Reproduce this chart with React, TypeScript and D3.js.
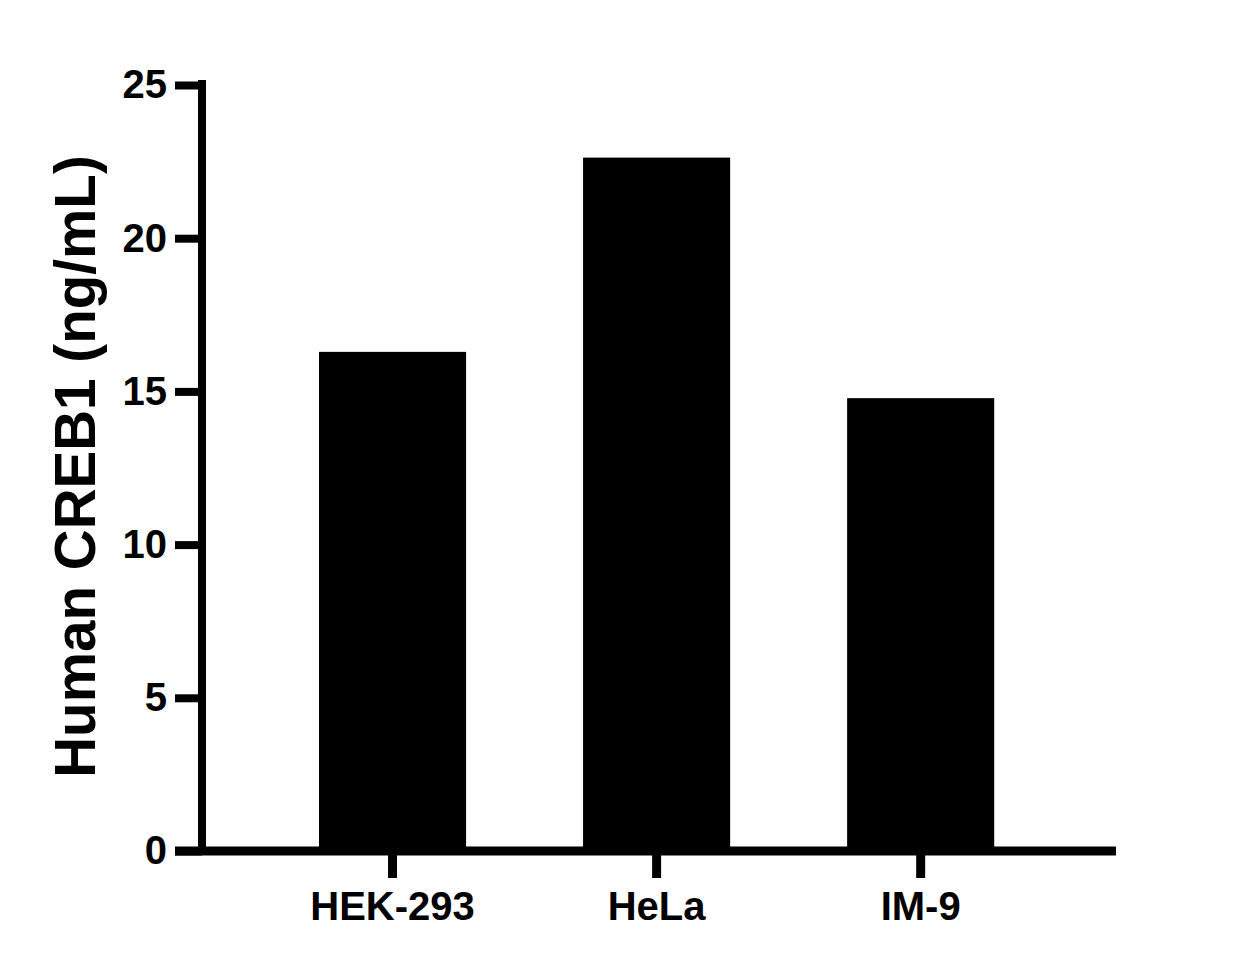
import React, { useEffect, useRef } from 'react';
import * as d3 from 'd3';

// cell lines and measured concentration (ng/mL)
const cellLines = ['HEK-293', 'HeLa', 'IM-9'];
const creb1Values = [16.29, 22.63, 14.78];
const yTicks = [0, 5, 10, 15, 20, 25];

const FONT = 'Arial, "Liberation Sans", Helvetica, sans-serif';

export default function App() {
  const svgRef = useRef<SVGSVGElement>(null);
  const width = 1250;
  const height = 972;

  useEffect(() => {
    if (!svgRef.current) return;
    const svg = d3.select(svgRef.current);
    svg.selectAll('*').remove();

    const axisX = 202;
    const axisY = 851;

    // Scales
    const yScale = d3.scaleLinear().domain([0, 25]).range([axisY, 85]);
    const xScale = d3.scaleBand<string>()
      .domain(cellLines)
      .range([260.5, 1052.7])
      .paddingInner(0.443)
      .paddingOuter(0.2215);

    // Bars
    svg.append('g')
      .selectAll('rect')
      .data(cellLines)
      .enter()
      .append('rect')
      .attr('x', d => xScale(d) as number)
      .attr('y', (d, i) => yScale(creb1Values[i]))
      .attr('width', xScale.bandwidth())
      .attr('height', (d, i) => axisY - yScale(creb1Values[i]))
      .attr('fill', '#000');

    // Y axis
    const yAxis = d3.axisLeft(yScale)
      .tickValues(yTicks)
      .tickFormat(d3.format('d') as any)
      .tickSizeInner(27)
      .tickSizeOuter(0)
      .tickPadding(8);

    const yG = svg.append('g')
      .attr('transform', `translate(${axisX},0)`)
      .call(yAxis);
    yG.select('.domain').remove();
    yG.selectAll('.tick line').attr('stroke', '#000').attr('stroke-width', 8);
    yG.selectAll('.tick text')
      .attr('fill', '#000')
      .style('font-family', FONT)
      .style('font-size', '40px')
      .style('font-weight', 'bold');

    // X axis
    const xAxis = d3.axisBottom(xScale)
      .tickSizeInner(27)
      .tickSizeOuter(0)
      .tickPadding(14);

    const xG = svg.append('g')
      .attr('transform', `translate(0,${axisY})`)
      .call(xAxis);
    xG.select('.domain').remove();
    xG.selectAll('.tick line').attr('stroke', '#000').attr('stroke-width', 9);
    xG.selectAll('.tick text')
      .attr('fill', '#000')
      .style('font-family', FONT)
      .style('font-size', '40px')
      .style('font-weight', 'bold');

    // Axis lines
    svg.append('line')
      .attr('x1', axisX).attr('x2', axisX)
      .attr('y1', 80).attr('y2', axisY + 4)
      .attr('stroke', '#000').attr('stroke-width', 8);
    svg.append('line')
      .attr('x1', 175).attr('x2', 1116)
      .attr('y1', axisY).attr('y2', axisY)
      .attr('stroke', '#000').attr('stroke-width', 9);

    // Y title
    svg.append('text')
      .attr('transform', 'rotate(-90)')
      .attr('x', -466.5)
      .attr('y', 95)
      .attr('text-anchor', 'middle')
      .style('font-family', FONT)
      .style('font-size', '56.6px')
      .style('font-weight', 'bold')
      .attr('fill', '#000')
      .text('Human CREB1 (ng/mL)');
  }, []);

  return (
    <svg
      ref={svgRef}
      width={width}
      height={height}
      style={{ position: 'absolute', left: 0, top: 0, background: '#fff', display: 'block' }}
    />
  );
}
